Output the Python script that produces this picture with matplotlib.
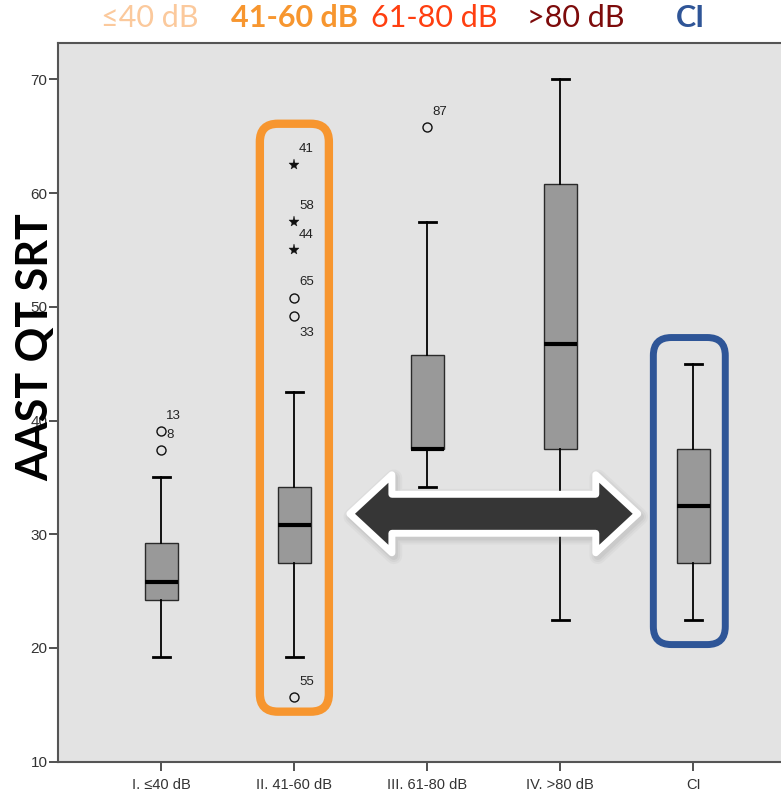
import numpy as np
import matplotlib.pyplot as plt
from matplotlib.patches import FancyBboxPatch, Polygon
from matplotlib.transforms import blended_transform_factory

# box statistics
groups = ['I. ≤40 dB', 'II. 41-60 dB', 'III. 61-80 dB', 'IV. >80 dB', 'CI']
whislo = [19.2, 19.2, 34.2, 22.5, 22.5]
q1 = [24.2, 27.5, 37.5, 37.5, 27.5]
med = [25.8, 30.8, 37.5, 46.7, 32.5]
q3 = [29.2, 34.2, 45.8, 60.8, 37.5]
whishi = [35.0, 42.5, 57.5, 70.0, 45.0]

# outliers (circles) and extremes (stars): group index, value, case number
out_grp = [0, 0, 1, 1, 1, 2]
out_val = [39.1, 37.4, 50.8, 49.2, 15.7, 65.8]
out_lab = ['13', '8', '65', '33', '55', '87']
ext_grp = [1, 1, 1]
ext_val = [62.5, 57.5, 55.0]
ext_lab = ['41', '58', '44']

header = ['≤40 dB', '41-60 dB', '61-80 dB', '>80 dB', 'CI']
header_col = ['#fbc99c', '#f7962f', '#ff3f10', '#7d0b0b', '#2f5597']
header_bold = [False, True, False, False, True]

yticks = [10, 20, 30, 40, 50, 60, 70]

fig = plt.figure(figsize=(7.81, 7.93), dpi=100)
ax = fig.add_axes([58/781, 1-761.7/793, 1-58/781, (761.7-43)/793])
ax.set_facecolor('#e3e3e3')
ax.set_xlim(0.223, 5.66)
ax.set_ylim(10, 73.2)

pos = np.arange(1, len(groups)+1)
stats = [dict(med=med[i], q1=q1[i], q3=q3[i], whislo=whislo[i], whishi=whishi[i], fliers=[])
         for i in range(len(groups))]
ax.bxp(stats, positions=pos, widths=0.25, patch_artist=True, showfliers=False,
       capwidths=0.13,
       boxprops=dict(facecolor='#999999', edgecolor='#2a2a2a', linewidth=1.0),
       medianprops=dict(color='black', linewidth=3),
       whiskerprops=dict(color='black', linewidth=1.3),
       capprops=dict(color='black', linewidth=2.0))

lab_font = ['Liberation Sans Narrow', 'Liberation Sans', 'DejaVu Sans']
ox = [pos[g] for g in out_grp]
ax.plot(ox, out_val, 'o', ms=6.5, mfc='none', mec='#111', mew=1.0, zorder=4)
ex = [pos[g] for g in ext_grp]
ax.plot(ex, ext_val, '*', ms=8, color='#111', mew=0.3, zorder=4)
for x, v, t in list(zip(ox, out_val, out_lab)) + list(zip(ex, ext_val, ext_lab)):
    dy = -12 if t == '33' else 11
    ax.annotate(t, (x, v), xytext=(3.5, dy), textcoords='offset points',
                ha='left', va='center', fontsize=9.5, family=lab_font, color='#222')

ax.set_xticks(pos)
ax.set_xticklabels(groups, family=lab_font, fontsize=10.5, color='#333')
ax.set_yticks(yticks)
ax.set_yticklabels([str(t) for t in yticks], family=lab_font, fontsize=11, color='#333')
ax.tick_params(axis='both', length=6.5, width=1.2, color='#333', pad=1)
ax.tick_params(axis='x', pad=5)
for s in ['left', 'bottom', 'top']:
    ax.spines[s].set_color('#555')
    ax.spines[s].set_linewidth(1.5)
ax.spines['right'].set_visible(False)

# pixel scale of the data axes
p0 = ax.transData.transform((0, 0))
p1 = ax.transData.transform((1, 1))
sx, sy = p1[0]-p0[0], p1[1]-p0[1]

# highlight frames
def frame(x0, x1, y0, y1, col, lw):
    r = 18/sx
    ax.add_patch(FancyBboxPatch((x0, y0), x1-x0, y1-y0,
                                boxstyle='round,pad=0,rounding_size=%f' % r,
                                mutation_aspect=sx/sy, fill=False, ec=col, lw=lw,
                                zorder=6, clip_on=False))

frame(1.741, 2.26, 14.4, 66.1, '#f7962f', 6)
frame(4.70, 5.241, 20.3, 47.3, '#2e5597', 5)

# double arrow between group II and CI
xa, xb, yc = 2.418, 4.583, 31.8
hl, hh, sh = 42/sx, 39/sy, 19.5/sy
arrow = [(xa, yc), (xa+hl, yc+hh), (xa+hl, yc+sh), (xb-hl, yc+sh), (xb-hl, yc+hh),
         (xb, yc), (xb-hl, yc-hh), (xb-hl, yc-sh), (xa+hl, yc-sh), (xa+hl, yc-hh)]
# soft shadow
for w, a in [(12, 0.06), (9, 0.08), (6, 0.1)]:
    shadow = [(x + 2/sx, y - 3/sy) for x, y in arrow]
    ax.add_patch(Polygon(shadow, closed=True, fc='#777777', ec='#777777', lw=w,
                         alpha=a, joinstyle='round', zorder=7))
ax.add_patch(Polygon(arrow, closed=True, fc='#363636', ec='white', lw=5,
                     joinstyle='round', zorder=8))

# coloured group headers
hx = [0.914, 2.0, 3.05, 4.12, 4.98]
tr = blended_transform_factory(ax.transData, fig.transFigure)
for x, t, c, b in zip(hx, header, header_col, header_bold):
    fig.text(x, 1-18/793, t, transform=tr, ha='center', va='center', color=c,
             fontsize=22, fontweight='bold' if b else 'normal',
             family=['Lato', 'DejaVu Sans'])

fig.text(35/781, 1-347.5/793, 'AAST QT SRT', rotation=90, ha='center', va='center',
         fontsize=31, fontweight='bold', family=['Lato', 'DejaVu Sans'], color='black')

fig.savefig('out.png', dpi=100)
